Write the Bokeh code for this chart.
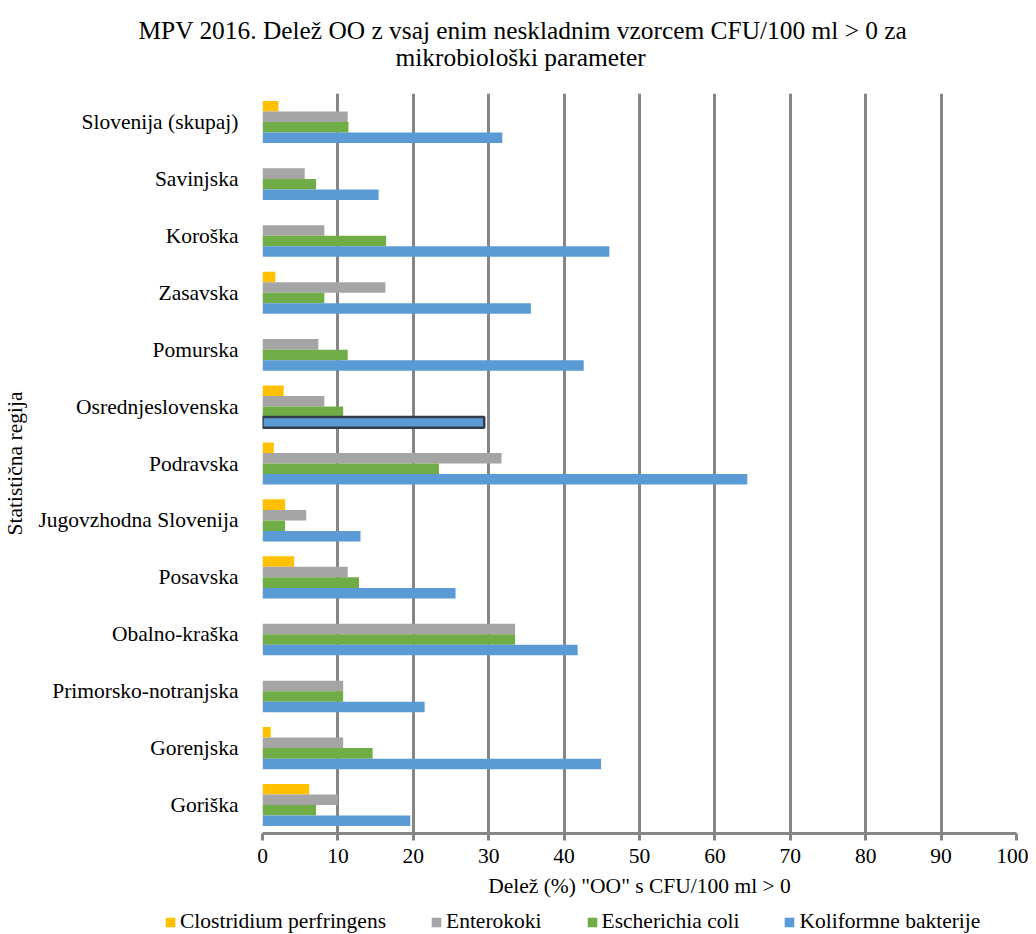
from bokeh.plotting import figure
from bokeh.layouts import column, row
from bokeh.models import (FactorRange, Range1d, Legend, LegendItem, ColumnDataSource, Title)
from bokeh.transform import dodge
from bokeh.embed import file_html
from bokeh.resources import INLINE

regions = ["Slovenija (skupaj)", "Savinjska", "Koroška", "Zasavska", "Pomurska",
           "Osrednjeslovenska", "Podravska", "Jugovzhodna Slovenija", "Posavska",
           "Obalno-kraška", "Primorsko-notranjska", "Gorenjska", "Goriška"]
clostridium = [2.1, 0, 0, 1.7, 0, 2.8, 1.5, 3.0, 4.2, 0, 0, 1.1, 6.2]
enterokoki = [11.3, 5.6, 8.2, 16.3, 7.4, 8.2, 31.7, 5.8, 11.3, 33.5, 10.7, 10.7, 10.0]
ecoli = [11.4, 7.1, 16.4, 8.2, 11.3, 10.7, 23.4, 3.0, 12.8, 33.5, 10.7, 14.6, 7.1]
koliformne = [31.8, 15.4, 46.0, 35.6, 42.6, 29.4, 64.3, 13.0, 25.6, 41.8, 21.5, 44.9, 19.6]
series_names = ["Clostridium perfringens", "Enterokoki", "Escherichia coli", "Koliformne bakterije"]
x_ticks = list(range(0, 101, 10))
title_lines = ["MPV 2016. Delež OO z vsaj enim neskladnim  vzorcem CFU/100 ml > 0 za",
               "mikrobiološki  parameter"]

FONT = "Liberation Serif"
FS = "21.5px"
TFS = "25.4px"
colors = ["#FFC000", "#A5A5A5", "#70AD47", "#5B9BD5"]
grid_col = "#868686"
W = 1028
LH = 32
PH = 934 - LH

# ---------- main chart ----------
highlight = "Osrednjeslovenska"
outline_col = ["#323C4A" if r == highlight else None for r in regions]
outline_w = [2.5 if r == highlight else 0 for r in regions]

src = ColumnDataSource(dict(region=regions, c=clostridium, e=enterokoki, k_ecoli=ecoli,
                            k=koliformne, lc=outline_col, lw=outline_w))

p = figure(width=W, height=PH, output_backend="svg", toolbar_location=None,
           title_location=None,
           y_range=FactorRange(factors=regions[::-1]), x_range=Range1d(0, 100),
           min_border_left=261, min_border_right=12, min_border_top=93,
           min_border_bottom=PH - 833)
p.outline_line_color = None

bh = 0.185
offsets = [1.5 * bh, 0.5 * bh, -0.5 * bh, -1.5 * bh]
fields = ["c", "e", "k_ecoli", "k"]
for f, col, off in zip(fields, colors, offsets):
    if f == "k":
        p.hbar(y=dodge("region", off, range=p.y_range), right=f, left=0, height=bh,
               source=src, fill_color=col, line_color="lc", line_width="lw")
    else:
        p.hbar(y=dodge("region", off, range=p.y_range), right=f, left=0, height=bh,
               source=src, fill_color=col, line_color=None)

p.ygrid.grid_line_color = None
p.xgrid.grid_line_color = grid_col
p.xgrid.grid_line_width = 3
p.xaxis.ticker = x_ticks
p.xgrid.ticker = x_ticks

p.xaxis.axis_line_color = grid_col
p.xaxis.axis_line_width = 3
p.xaxis.major_tick_line_color = grid_col
p.xaxis.major_tick_line_width = 3
p.xaxis.major_tick_out = 7
p.xaxis.major_tick_in = 0
p.xaxis.minor_tick_line_color = None
p.xaxis.major_label_text_font = FONT
p.xaxis.major_label_text_font_size = FS
p.xaxis.major_label_text_color = "black"
p.xaxis.major_label_standoff = 8
p.xaxis.axis_label = 'Delež (%) "OO" s CFU/100 ml > 0'
p.xaxis.axis_label_text_font = FONT
p.xaxis.axis_label_text_font_size = FS
p.xaxis.axis_label_text_font_style = "normal"
p.xaxis.axis_label_text_color = "black"
p.xaxis.axis_label_standoff = 8

p.yaxis.axis_line_color = None
p.yaxis.major_tick_line_color = None
p.yaxis.minor_tick_line_color = None
p.yaxis.major_label_text_font = FONT
p.yaxis.major_label_text_font_size = FS
p.yaxis.major_label_text_color = "black"
p.yaxis.major_label_standoff = 18
p.yaxis.axis_label = "Statistična regija"
p.yaxis.axis_label_text_font = FONT
p.yaxis.axis_label_text_font_size = FS
p.yaxis.axis_label_text_font_style = "normal"
p.yaxis.axis_label_text_color = "black"
p.yaxis.axis_label_standoff = 8

# title: spacer nearest to the plot, then line 2, then line 1
p.add_layout(Title(text=" ", text_font_size="1px", standoff=20), "above")
p.add_layout(Title(text=title_lines[1], align="left", offset=133, standoff=0,
                   text_font=FONT, text_font_size=TFS, text_font_style="normal",
                   text_color="black"), "above")
p.add_layout(Title(text=title_lines[0], align="left", offset=-124, standoff=-6,
                   text_font=FONT, text_font_size=TFS, text_font_style="normal",
                   text_color="black"), "above")

# ---------- legend strip ----------
lfig = figure(width=W, height=LH, output_backend="svg", toolbar_location=None,
              title_location=None, x_axis_location=None, y_axis_location=None,
              x_range=Range1d(0, W), y_range=Range1d(0, LH),
              min_border=0, min_border_left=0, min_border_right=0,
              min_border_top=0, min_border_bottom=0)
lfig.grid.visible = False
lfig.outline_line_color = None
# zero-size proxy glyphs that only carry the legend colours
proxies = [lfig.hbar(y=[0], left=[0], right=[0], height=0, fill_color=col, line_color=None)
           for col in colors]
legend = Legend(items=[LegendItem(label=n, renderers=[r]) for n, r in zip(series_names, proxies)],
                orientation="horizontal", location=(164, 0),
                glyph_width=12, glyph_height=12, label_standoff=4, spacing=44,
                padding=0, margin=0, border_line_color=None, background_fill_alpha=0,
                label_text_font=FONT, label_text_font_size=FS, label_text_color="black")
lfig.add_layout(legend, "center")

layout = column(p, row(lfig), spacing=0)
open("out.html", "w").write(file_html(layout, INLINE))
